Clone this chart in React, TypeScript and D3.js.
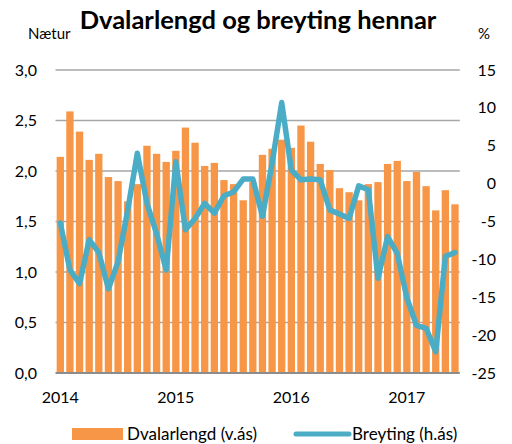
import * as d3 from "d3";

// Monthly, Jan 2014 - Jun 2017
const startMonth = new Date(2014, 0, 1);
const months = d3.timeMonth.range(startMonth, new Date(2017, 6, 1));

// Dvalarlengd (nætur), left axis
const dvalarlengd = [
  2.14, 2.59, 2.39, 2.11, 2.17, 1.94, 1.9, 1.7, 1.87, 2.25, 2.17, 2.09,
  2.2, 2.43, 2.28, 2.05, 2.08, 1.91, 1.87, 1.71, 1.89, 2.16, 2.22, 2.31,
  2.23, 2.45, 2.29, 2.07, 2.01, 1.83, 1.79, 1.71, 1.87, 1.89, 2.07, 2.1,
  1.9, 1.99, 1.85, 1.61, 1.81, 1.67,
];

// Breyting (%), right axis
const breyting = [
  -5.2, -11.4, -13.2, -7.4, -9.1, -13.9, -10.3, -3.5, 4.0, -2.6, -6.6, -11.4,
  2.9, -6.1, -4.6, -2.6, -3.9, -1.6, -1.1, 0.6, 0.6, -4.3, 2.7, 10.7,
  1.8, 0.5, 0.6, 0.5, -3.5, -4.0, -4.6, -0.3, -0.8, -12.5, -7.0, -9.2,
  -15.1, -18.7, -19.1, -22.2, -9.6, -9.1,
];

const leftTicks = [0, 0.5, 1, 1.5, 2, 2.5, 3];
const rightTicks = [-25, -20, -15, -10, -5, 0, 5, 10, 15];
const yearLabels = ["2014", "2015", "2016", "2017"];

const FONT = "Lato, 'Open Sans', sans-serif";
const ORANGE = "#F79646";
const BLUE = "#4BACC6";

export default function App() {
  const width = 512;
  const height = 444;
  const left = 55.5;
  const right = 459.8;
  const top = 70;
  const bottom = 373;

  const x = d3
    .scaleBand<number>()
    .domain(months.map((_, i) => i))
    .range([left, right])
    .paddingInner(0.24)
    .paddingOuter(0.12);

  const yL = d3.scaleLinear().domain([0, 3]).range([bottom, top]);
  const yR = d3.scaleLinear().domain([-25, 15]).range([bottom, top]);

  const cx = (i: number) => x(i)! + x.bandwidth() / 2;

  const line = d3
    .line<number>()
    .x((_, i) => cx(i))
    .y((d) => yR(d));

  const fmt = (v: number) => d3.format(".1f")(v).replace(".", ",");

  return (
    <svg
      width={width}
      height={height}
      style={{ position: "absolute", left: 0, top: 0, background: "#fff" }}
      fontFamily={FONT}
    >
      {/* title */}
      <text x={258} y={29} textAnchor="middle" fontSize={25.5} fontWeight="bold" fill="#000">
        Dvalarlengd og breyting hennar
      </text>
      <text x={28} y={39} fontSize={15} fill="#000">Nætur</text>
      <text x={478} y={39} fontSize={15} fill="#000">%</text>

      {/* gridlines */}
      {leftTicks.slice(1).map((t) => (
        <line key={t} x1={left} x2={right} y1={yL(t)} y2={yL(t)} stroke="#a6a6a6" strokeWidth={1.5} />
      ))}

      {/* bars */}
      {dvalarlengd.map((v, i) => (
        <rect key={i} x={x(i)} y={yL(v)} width={x.bandwidth()} height={bottom - yL(v)} fill={ORANGE} />
      ))}

      {/* baseline */}
      <line x1={left} x2={right} y1={bottom} y2={bottom} stroke="#8c8c8c" strokeWidth={2} />

      {/* line */}
      <path
        d={line(breyting) ?? ""}
        fill="none"
        stroke={BLUE}
        strokeWidth={5.5}
        strokeLinejoin="round"
        strokeLinecap="round"
      />

      {/* left axis labels */}
      {leftTicks.map((t) => (
        <text key={t} x={37} y={yL(t)} dy="0.35em" textAnchor="end" fontSize={16} fill="#000">
          {fmt(t)}
        </text>
      ))}

      {/* right axis labels */}
      {rightTicks.map((t) => (
        <text key={t} x={496} y={yR(t)} dy="0.35em" textAnchor="end" fontSize={16} fill="#000">
          {t}
        </text>
      ))}

      {/* x labels */}
      {yearLabels.map((lab, k) => (
        <text key={lab} x={cx(k * 12)} y={403} textAnchor="middle" fontSize={16} fill="#000">
          {lab}
        </text>
      ))}

      {/* legend */}
      <rect x={72} y={428} width={51} height={12} fill={ORANGE} />
      <text x={127} y={439.5} fontSize={17} fill="#000">Dvalarlengd (v.ás)</text>
      <line x1={296} x2={349} y1={434} y2={434} stroke={BLUE} strokeWidth={5} strokeLinecap="round" />
      <text x={352} y={439.5} fontSize={17} fill="#000">Breyting (h.ás)</text>
    </svg>
  );
}
